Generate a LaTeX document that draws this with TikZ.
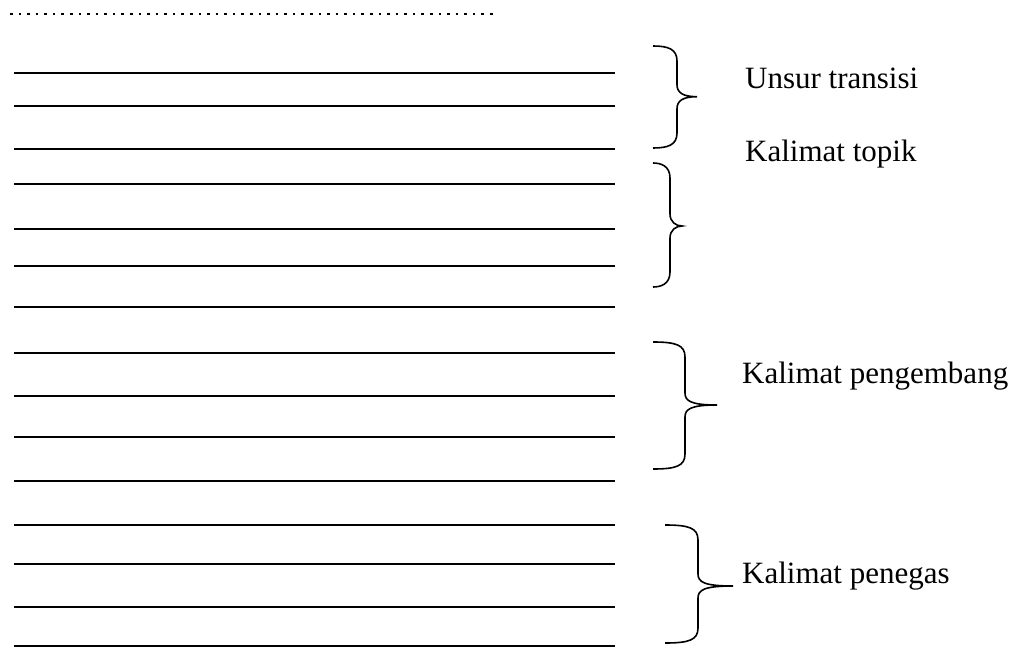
\documentclass[tikz,border=0pt]{standalone}
\usepackage{fontspec}
\setmainfont{Liberation Serif}
\newcommand{\mybrace}[6]{%
  \draw[bracestyle] (#1,#4) .. controls ({#2-9},#4) and (#2,{#4+3}) .. (#2,{#4+15})
    -- (#2,{#5-12}) .. controls (#2,{#5-4}) and ({#2+6},#5) .. (#3,#5)
    .. controls ({#2+6},#5) and (#2,{#5+4}) .. (#2,{#5+12})
    -- (#2,{#6-15}) .. controls (#2,{#6-3}) and ({#2-9},#6) .. (#1,#6);}
\tikzset{
  rule/.style={line width=2pt, black},
  bracestyle/.style={line width=1.6pt, black},
  dotrule/.style={line width=2.6pt, dash pattern=on 2.6pt off 5.97pt},
  label/.style={anchor=base west, inner sep=0pt, font=\fontsize{31}{37}\selectfont}
}
\begin{document}
\begin{tikzpicture}[x=1pt,y=-1pt]
\useasboundingbox (0,0) rectangle (1019,647);
\draw[dotrule] (10,14) -- (495,14);
\foreach \y in {72.7,105.7,148.7,184.3,229.3,266,306.7,353.3,395.7,436.7,481,525,564,606.7,645.5}
  \draw[rule] (14,\y) -- (615,\y);
\mybrace{653}{677}{697}{46}{96.7}{148}
\mybrace{653}{670}{682}{163}{226}{287}
\mybrace{653}{685}{717}{342}{405}{469}
\mybrace{665}{698}{733}{525}{586}{643}
\node[label] (ut) at (745,89) {Unsur transisi};
\node[label] (kt) at (745,162) {Kalimat topik};
\node[label] (kpg) at (742,383) {Kalimat pengembang};
\node[label] (kpn) at (742,583) {Kalimat penegas};
\end{tikzpicture}
\end{document}
